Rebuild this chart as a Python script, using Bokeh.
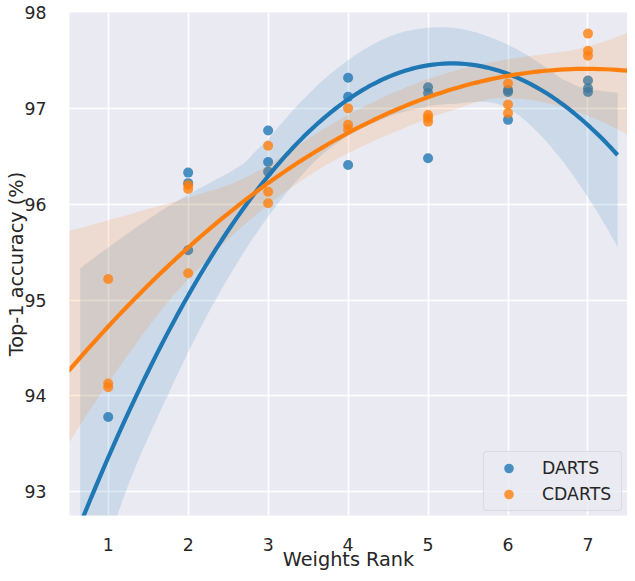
from itertools import combinations
import numpy as np
from bokeh.plotting import figure
from bokeh.models import Range1d, FixedTicker, Legend, LegendItem
from bokeh.embed import file_html
from bokeh.resources import INLINE

# ---- data ----
rank_ticks = [1, 2, 3, 4, 5, 6, 7]
acc_ticks = [93, 94, 95, 96, 97, 98]

darts_rank = [1, 1, 1, 2, 2, 2, 3, 3, 3, 4, 4, 4, 5, 5, 5, 6, 6, 6, 7, 7, 7]
darts_acc = [93.78, 92.68, 91.58,
             96.33, 96.22, 95.52,
             96.77, 96.44, 96.34,
             97.32, 97.12, 96.41,
             97.22, 97.16, 96.48,
             97.19, 97.17, 96.88,
             97.29, 97.21, 97.17]

cdarts_rank = [1, 1, 1, 2, 2, 2, 3, 3, 3, 4, 4, 4, 5, 5, 5, 6, 6, 6, 7, 7, 7]
cdarts_acc = [95.22, 94.13, 94.09,
              96.20, 96.16, 95.28,
              96.61, 96.13, 96.01,
              97.00, 96.83, 96.78,
              96.93, 96.90, 96.86,
              97.26, 97.04, 96.95,
              97.78, 97.60, 97.55]

darts_fit_span = (0.65, 7.37)
cdarts_fit_span = (0.5, 7.5)

X_MIN, X_MAX = 0.516, 7.494
Y_MIN, Y_MAX = 92.753, 98.0

BLUE = "#1f77b4"
ORANGE = "#ff7f0e"
TEXT = "#262626"
FONT = "DejaVu Sans"


def quad_fit(xs, ys, span, n=100, d=5):
    """Order-2 regression with a 95% band from all delete-d resamples."""
    x = np.asarray(xs, float)
    y = np.asarray(ys, float)
    g = np.linspace(span[0], span[1], n)
    G = np.vander(g, 3)
    X = np.vander(x, 3)
    yhat = G @ np.linalg.lstsq(X, y, rcond=None)[0]
    N = len(x)
    devs = []
    for drop in combinations(range(N), d):
        keep = np.ones(N, bool)
        keep[list(drop)] = False
        b = np.linalg.lstsq(X[keep], y[keep], rcond=None)[0]
        devs.append(G @ b - yhat)
    devs = np.array(devs) * np.sqrt((N - d) / d)
    lo = yhat + np.percentile(devs, 2.5, axis=0)
    hi = yhat + np.percentile(devs, 97.5, axis=0)
    return g, yhat, lo, hi


W, H = 627, 573
BL, BR, BT, BB = 69, 0, 12, 57
p = figure(width=W, height=H, output_backend="svg", toolbar_location=None,
           x_range=Range1d(X_MIN, X_MAX), y_range=Range1d(Y_MIN, Y_MAX),
           min_border_left=BL, min_border_right=BR, min_border_top=BT,
           min_border_bottom=BB)
p.background_fill_color = "#EAEAF2"
p.border_fill_color = "white"
p.outline_line_color = None

for ax in (p.xaxis[0], p.yaxis[0]):
    ax.axis_line_color = None
    ax.major_tick_line_color = None
    ax.minor_tick_line_color = None
    ax.major_label_text_font = FONT
    ax.major_label_text_font_size = "17.3px"
    ax.major_label_text_color = TEXT
    ax.axis_label_text_font = FONT
    ax.axis_label_text_font_size = "19.3px"
    ax.axis_label_text_font_style = "normal"
    ax.axis_label_text_color = TEXT

p.xaxis.ticker = FixedTicker(ticks=rank_ticks)
p.yaxis.ticker = FixedTicker(ticks=acc_ticks)
p.xaxis.axis_label = "Weights Rank"
p.yaxis.axis_label = "Top-1 accuracy (%)"
p.xaxis.major_label_standoff = 16
p.yaxis.major_label_standoff = 17
p.xaxis.axis_label_standoff = -6
p.yaxis.axis_label_standoff = -6

p.xgrid.ticker = FixedTicker(ticks=rank_ticks)
p.ygrid.ticker = FixedTicker(ticks=acc_ticks)
p.grid.grid_line_color = "white"
p.grid.grid_line_width = 1.6

dg, dy, dlo, dhi = quad_fit(darts_rank, darts_acc, darts_fit_span)
cg, cy, clo, chi = quad_fit(cdarts_rank, cdarts_acc, cdarts_fit_span)

r_d = p.scatter(darts_rank, darts_acc, size=10, fill_color=BLUE, fill_alpha=0.8,
                line_color=None)
p.varea(x=dg, y1=dlo, y2=dhi, fill_color=BLUE, fill_alpha=0.15)
r_c = p.scatter(cdarts_rank, cdarts_acc, size=10, fill_color=ORANGE, fill_alpha=0.8,
                line_color=None)
p.varea(x=cg, y1=clo, y2=chi, fill_color=ORANGE, fill_alpha=0.15)
p.line(dg, dy, line_color=BLUE, line_width=4.2)
p.line(cg, cy, line_color=ORANGE, line_width=4.2)

legend = Legend(items=[LegendItem(label="DARTS", renderers=[r_d]),
                       LegendItem(label="CDARTS", renderers=[r_c])],
                location=(414, 4), margin=0, padding=4, spacing=2,
                glyph_width=41, glyph_height=24, label_height=24,
                label_width=75, label_standoff=13,
                label_text_font=FONT, label_text_font_size="17.3px",
                label_text_color=TEXT,
                background_fill_color="#EAEAF2", background_fill_alpha=0.8,
                border_line_color="#cccccc", border_line_width=1.5,
                border_radius=4)
p.add_layout(legend)

open("out.html", "w").write(file_html(p, INLINE))
